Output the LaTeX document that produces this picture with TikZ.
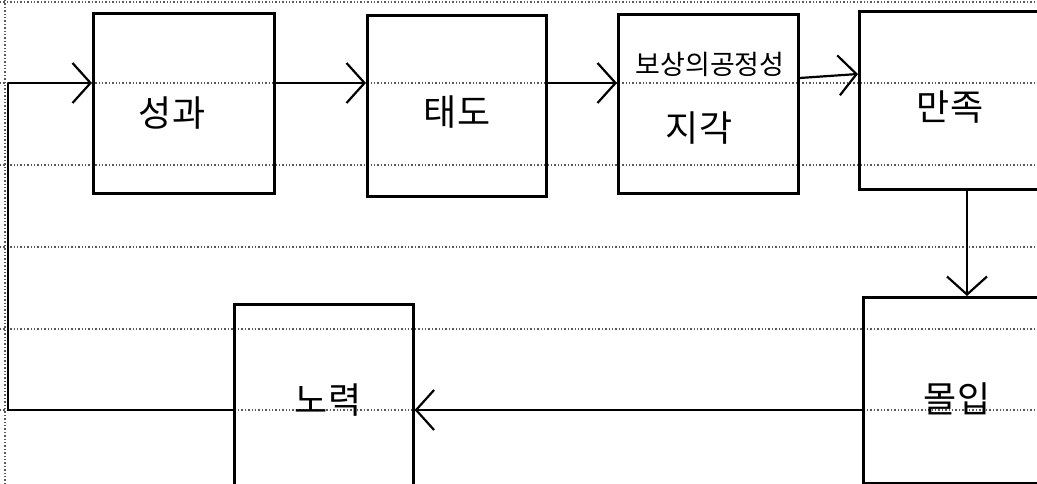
\documentclass[tikz,border=0pt]{standalone}
\usepackage{fontspec}
\newfontfamily\kr{Noto Sans CJK KR}
\usetikzlibrary{arrows.meta}
\begin{document}
\begin{tikzpicture}[x=1pt,y=-1pt,
  box/.style={draw=black,line width=2.6pt,minimum width=180pt,minimum height=180pt,anchor=north west,inner sep=0pt},
  lbl/.style={font=\kr\fontsize{36}{40}\selectfont,inner sep=0pt},
  conn/.style={line width=2.2pt,-{Straight Barb[length=18pt,width=40pt,line width=2.2pt]}},
  plain/.style={line width=2.2pt},
  rule/.style={draw=black!65,line width=1.4pt,dotted}]
\useasboundingbox (0,0) rectangle (1037,484);
% ruled paper
\foreach \yy in {83,165,247,329,410}{\draw[rule] (0,\yy) -- (1037,\yy);}
\draw[rule] (0,2) -- (1037,2);
\draw[rule] (5,0) -- (5,484);
% boxes
\node[box,minimum width=181pt,minimum height=180pt] (perf) at (92,12) {};
\node[box,minimum width=179pt,minimum height=181pt] (att) at (366,14) {};
\node[box,minimum width=180pt,minimum height=179pt] (fair) at (617,13) {};
\node[box,minimum width=195pt,minimum height=178pt] (sat) at (858,10) {};
\node[box,minimum width=195pt,minimum height=186pt] (com) at (862,296) {};
\node[box,minimum width=179pt,minimum height=186pt] (eff) at (233,303) {};
% labels
\node[lbl] (t1) at (172,113) {성과};
\node[lbl] (t2) at (457,112) {태도};
\node[lbl,font=\kr\fontsize{27}{30}\selectfont] (t3a) at (710,64) {보상의공정성};
\node[lbl] (t3b) at (699,128) {지각};
\node[lbl] (t4) at (950,107) {만족};
\node[lbl] (t5) at (957,399) {몰입};
\node[lbl] (t6) at (328,400) {노력};
% connectors
\coordinate (start) at (8,83);
\coordinate (corner) at (8,410);
\draw[conn] (start) -- (perf.west |- start);
\draw[conn] (perf.east |- start) -- (att.west |- start);
\draw[conn] (att.east |- start) -- (fair.west |- start);
\draw[conn] (fair.east |- 0,78) -- (sat.west |- 0,74);
\draw[conn] (sat.south -| 967,0) -- (com.north -| 967,0);
\draw[conn] (com.west |- corner) -- (eff.east |- corner);
\draw[plain] (eff.west |- corner) -- (corner) -- (start);
\end{tikzpicture}
\end{document}
